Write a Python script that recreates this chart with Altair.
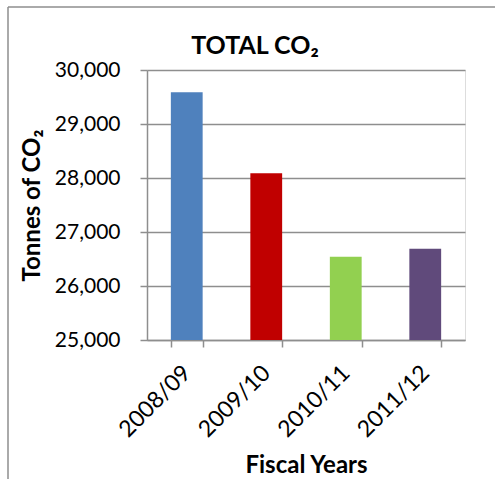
import altair as alt
import pandas as pd

years = ["2008/09", "2009/10", "2010/11", "2011/12"]
tonnes = [29590, 28090, 26540, 26690]
colors = ["#4F81BD", "#C00000", "#92D050", "#604A7B"]

df = pd.DataFrame({"year": years, "tonnes": tonnes, "color": colors})

FONT = "Lato"

bars = alt.Chart(df).mark_bar(clip=True).encode(
    x=alt.X("year:N", sort=years, title="Fiscal Years",
            scale=alt.Scale(paddingInner=0.6, paddingOuter=0.3),
            axis=alt.Axis(labelAngle=-45, labelAlign="right", labelBaseline="middle",
                          labelFontSize=23, labelFont=FONT, labelColor="#000",
                          labelPadding=22, tickBand="extent", tickSize=7,
                          tickColor="#8E8E8E", tickWidth=1.5, domainColor="#8E8E8E",
                          domainWidth=1.5, titleFont=FONT, titleFontSize=24,
                          titleFontWeight="bold", titleColor="#000", titlePadding=12)),
    y=alt.Y("tonnes:Q", title="Tonnes of CO₂",
            scale=alt.Scale(domain=[25000, 30000], nice=False, zero=False),
            axis=alt.Axis(values=[25000, 26000, 27000, 28000, 29000, 30000], format=",.0f",
                          labelFontSize=21, labelFont=FONT, labelColor="#000",
                          labelPadding=20, tickSize=7, tickColor="#8E8E8E", tickWidth=1.5,
                          domainColor="#8E8E8E", domainWidth=1.5,
                          gridColor="#8E8E8E", gridWidth=1.5,
                          titleFont=FONT, titleFontSize=24, titleFontWeight="bold",
                          titleColor="#000", titlePadding=10)),
    color=alt.Color("color:N", scale=None),
)

border_v = alt.Chart(alt.Data(values=[{}])).mark_rule(color="#8E8E8E", strokeWidth=1.5).encode(
    x=alt.value(-139), y=alt.value(-63), y2=alt.value(409))
border_h = alt.Chart(alt.Data(values=[{}])).mark_rule(color="#8E8E8E", strokeWidth=1.5).encode(
    x=alt.value(-139), x2=alt.value(348), y=alt.value(-63))

chart = alt.layer(border_v, border_h, bars).properties(
    width=318, height=270,
    title=alt.TitleParams("TOTAL CO₂", font=FONT, fontSize=25, fontWeight="bold",
                          color="#000", anchor="middle", dx=-51, dy=53, offset=0),
    autosize=alt.AutoSizeParams(type="none"),
    padding={"left": 147, "top": 70, "right": 30, "bottom": 139},
).configure_view(stroke=None).configure(background="white")

chart.save("out.html", embed_options={"renderer": "svg", "actions": False})
